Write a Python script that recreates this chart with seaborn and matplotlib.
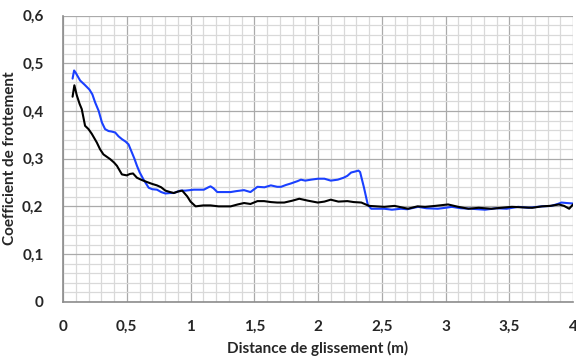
import numpy as np
import pandas as pd
import matplotlib
matplotlib.use("Agg")
import matplotlib.pyplot as plt
from matplotlib.ticker import MultipleLocator, FuncFormatter
import seaborn as sns

# Friction coefficient vs sliding distance, two tests
dist_blue = [0.075, 0.087, 0.10, 0.134, 0.17, 0.207, 0.23, 0.252, 0.28, 0.305, 0.33, 0.357, 0.38,
             0.409, 0.435, 0.462, 0.49, 0.514, 0.54, 0.56, 0.58, 0.60, 0.632, 0.672, 0.70, 0.737,
             0.77, 0.803, 0.84, 0.869, 0.92, 0.96, 1.026, 1.06, 1.105, 1.14, 1.157, 1.18, 1.21,
             1.26, 1.315, 1.36, 1.42, 1.47, 1.525, 1.58, 1.63, 1.68, 1.71, 1.75, 1.787, 1.84,
             1.866, 1.90, 1.945, 2.0, 2.05, 2.10, 2.155, 2.20, 2.23, 2.26, 2.29, 2.317, 2.33,
             2.36, 2.39, 2.417, 2.46, 2.52, 2.58, 2.65, 2.70, 2.785, 2.85, 2.94, 3.0, 3.05, 3.12,
             3.2, 3.31, 3.4, 3.48, 3.57, 3.65, 3.756, 3.83, 3.88, 3.91, 3.95, 4.0]
coef_blue = [.468, .485, .480, .464, .455, .445, .435, .418, .400, .376, .362, .358, .357,
             .355, .347, .341, .336, .330, .313, .300, .285, .272, .256, .239, .236, .235,
             .230, .227, .228, .228, .233, .233, .235, .235, .235, .240, .242, .238, .230,
             .230, .230, .232, .234, .230, .241, .240, .244, .241, .241, .245, .248, .253,
             .256, .254, .256, .258, .258, .254, .256, .260, .264, .271, .273, .275, .272,
             .240, .204, .195, .195, .195, .193, .195, .194, .199, .196, .195, .197, .199, .196,
             .195, .193, .196, .195, .199, .197, .200, .201, .205, .208, .207, .206]

dist_black = [0.075, 0.089, 0.108, 0.13, 0.147, 0.173, 0.2, 0.226, 0.265, 0.29, 0.317, 0.37, 0.40,
              0.423, 0.462, 0.5, 0.525, 0.549, 0.58, 0.62, 0.659, 0.70, 0.737, 0.77, 0.803, 0.84,
              0.869, 0.90, 0.935, 0.974, 1.0, 1.04, 1.1, 1.157, 1.22, 1.315, 1.37, 1.42, 1.47,
              1.525, 1.577, 1.63, 1.68, 1.735, 1.80, 1.853, 1.92, 1.998, 2.05, 2.10, 2.16, 2.23,
              2.28, 2.34, 2.40, 2.46, 2.52, 2.6, 2.706, 2.78, 2.84, 2.92, 3.02, 3.1, 3.18, 3.26,
              3.36, 3.44, 3.52, 3.6, 3.68, 3.756, 3.82, 3.89, 3.93, 3.97, 4.0]
coef_black = [.430, .454, .433, .415, .404, .369, .362, .352, .334, .320, .309, .299, .292,
              .285, .267, .265, .268, .269, .260, .255, .251, .247, .244, .240, .233, .230,
              .228, .231, .233, .221, .210, .200, .202, .202, .200, .200, .204, .207, .205,
              .211, .211, .209, .208, .208, .212, .216, .212, .208, .210, .214, .210, .211,
              .209, .208, .201, .200, .199, .201, .195, .200, .199, .201, .204, .199, .195, .197,
              .195, .197, .199, .198, .197, .200, .201, .204, .201, .195, .204]

x_ticks = [0, 0.5, 1, 1.5, 2, 2.5, 3, 3.5, 4]
y_ticks = [0, 0.1, 0.2, 0.3, 0.4, 0.5, 0.6]

sns.set_style("white")
plt.rcParams["font.family"] = ["Lato", "DejaVu Sans"]

fig = plt.figure(figsize=(5.76, 3.56), dpi=100)
ax = fig.add_axes([0.1094, 0.1525, 0.8854, 0.8035])

df_blue = pd.DataFrame({"d": dist_blue, "c": coef_blue})
df_black = pd.DataFrame({"d": dist_black, "c": coef_black})
sns.lineplot(data=df_blue, x="d", y="c", ax=ax, color="#1a40ff", linewidth=1.5, sort=False, zorder=3)
sns.lineplot(data=df_black, x="d", y="c", ax=ax, color="#000000", linewidth=1.5, sort=False, zorder=4)

ax.set_xlim(0, 4)
ax.set_ylim(0, 0.6)
ax.set_xticks(x_ticks)
ax.set_yticks(y_ticks)
ax.xaxis.set_minor_locator(MultipleLocator(0.1))
ax.yaxis.set_minor_locator(MultipleLocator(0.02))

fmt = FuncFormatter(lambda v, p: ("%g" % round(v, 2)).replace(".", ","))
ax.xaxis.set_major_formatter(fmt)
ax.yaxis.set_major_formatter(fmt)

ax.grid(which="minor", color="#d9d9d9", linewidth=0.9)
ax.grid(which="major", color="#aaaaaa", linewidth=0.9)
ax.set_axisbelow(True)

for side in ["top", "right"]:
    ax.spines[side].set_visible(False)
for side in ["left", "bottom"]:
    ax.spines[side].set_color("#8c8c8c")
    ax.spines[side].set_linewidth(1.2)

ax.tick_params(axis="both", which="major", direction="out", length=4, width=1.0,
               color="#8c8c8c", labelsize=11)
ax.tick_params(axis="both", which="minor", length=0)
ax.tick_params(axis="x", pad=9)
ax.tick_params(axis="y", pad=10)
for lab in ax.get_xticklabels() + ax.get_yticklabels():
    lab.set_fontweight("bold")

ax.set_xlabel("Distance de glissement (m)", fontsize=11, fontweight="bold", labelpad=5)
ax.set_ylabel("Coefficient de frottement", fontsize=11, fontweight="bold", labelpad=4)

fig.savefig("out.png", dpi=100)
